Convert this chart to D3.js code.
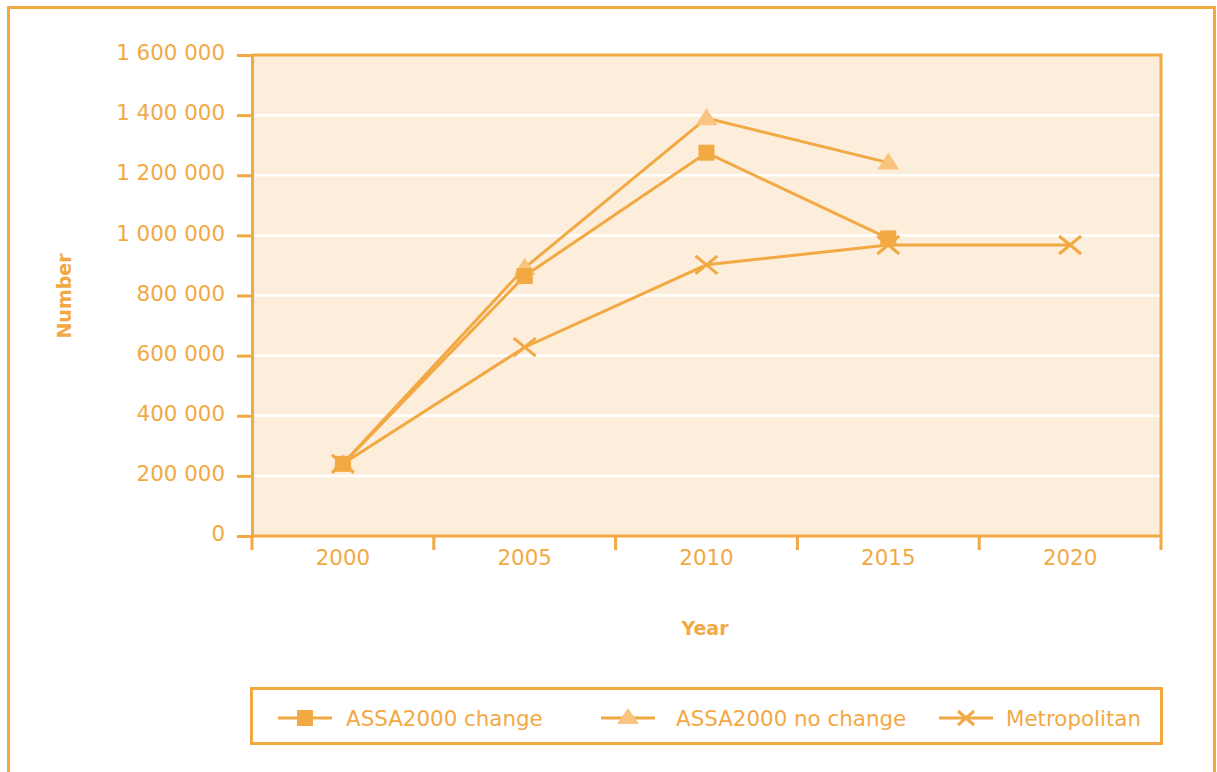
<!DOCTYPE html>
<html>
<head>
<meta charset="utf-8">
<script src="https://cdn.jsdelivr.net/npm/d3@7"></script>
<style>
  html, body { margin: 0; padding: 0; background: #ffffff; }
  svg { display: block; }
  text { font-family: "DejaVu Sans", "Open Sans", sans-serif; }
</style>
</head>
<body>
<svg id="chart" width="1217" height="772"></svg>
<script>
// Years on the horizontal axis
const years = ["2000", "2005", "2010", "2015", "2020"];
// Vertical axis ticks and their labels
const yTicks = [0, 200000, 400000, 600000, 800000, 1000000, 1200000, 1400000, 1600000];
const yTickLabels = ["0", "200 000", "400 000", "600 000", "800 000", "1 000 000", "1 200 000", "1 400 000", "1 600 000"];
// Series (null = no value)
const assaChange   = [240000, 865000, 1275000, 990000, null];
const assaNoChange = [240000, 892000, 1390000, 1242000, null];
const metropolitan = [240000, 628000, 902000, 968000, 968000];
const seriesNames  = ["ASSA2000 change", "ASSA2000 no change", "Metropolitan"];

const ORANGE = "#f2a944";
const LIGHT = "#f8c480";
const PLOT_BG = "#fdeedb";
const LABEL_SIZE = 21.4;

const svg = d3.select("#chart");

// Outer frame
svg.append("rect")
  .attr("x", 8.5).attr("y", 7.5).attr("width", 1206).attr("height", 800)
  .attr("fill", "none").attr("stroke", ORANGE).attr("stroke-width", 3);

const plot = { left: 252, right: 1161, top: 55, bottom: 536 };

const x = d3.scaleBand().domain(years).range([plot.left, plot.right]);
const y = d3.scaleLinear().domain([0, 1600000]).range([plot.bottom, plot.top]);

// Plot background
svg.append("rect")
  .attr("x", plot.left).attr("y", plot.top)
  .attr("width", plot.right - plot.left).attr("height", plot.bottom - plot.top)
  .attr("fill", PLOT_BG);

// Gridlines
svg.append("g").selectAll("line")
  .data(yTicks.filter(v => v > 0 && v < 1600000))
  .join("line")
  .attr("x1", plot.left).attr("x2", plot.right)
  .attr("y1", d => y(d)).attr("y2", d => y(d))
  .attr("stroke", "#ffffff").attr("stroke-width", 2.5);

// Plot border (top and right)
svg.append("path")
  .attr("d", `M${plot.left},${plot.top}H${plot.right}V${plot.bottom}`)
  .attr("fill", "none").attr("stroke", ORANGE).attr("stroke-width", 3);

// Y axis
const yAxis = d3.axisLeft(y)
  .tickValues(yTicks)
  .tickFormat((d, i) => yTickLabels[i])
  .tickSize(15).tickPadding(12);
const gy = svg.append("g").attr("transform", `translate(${plot.left},0)`).call(yAxis);
gy.select(".domain").attr("stroke", ORANGE).attr("stroke-width", 3);
gy.selectAll(".tick line").attr("stroke", ORANGE).attr("stroke-width", 3);
gy.selectAll(".tick text").attr("fill", ORANGE).attr("font-size", LABEL_SIZE)
  .attr("font-family", "DejaVu Sans, sans-serif").attr("dy", "0.22em");

// X axis: ticks on band boundaries
const boundaries = years.map(d => x(d)).concat([plot.right]);
const gx = svg.append("g");
gx.append("line")
  .attr("x1", plot.left).attr("x2", plot.right)
  .attr("y1", plot.bottom).attr("y2", plot.bottom)
  .attr("stroke", ORANGE).attr("stroke-width", 3);
gx.selectAll("line.tick").data(boundaries).join("line")
  .attr("class", "tick")
  .attr("x1", d => d).attr("x2", d => d)
  .attr("y1", plot.bottom).attr("y2", plot.bottom + 14)
  .attr("stroke", ORANGE).attr("stroke-width", 3);
gx.selectAll("text").data(years).join("text")
  .attr("x", d => x(d) + x.bandwidth() / 2)
  .attr("y", 565)
  .attr("text-anchor", "middle")
  .attr("fill", ORANGE).attr("font-size", LABEL_SIZE)
  .text(d => d);

// Axis titles
svg.append("text")
  .attr("transform", "translate(71,296) rotate(-90)")
  .attr("text-anchor", "middle")
  .attr("fill", ORANGE).attr("font-size", 19).attr("font-weight", "bold")
  .text("Number");
svg.append("text")
  .attr("x", 705).attr("y", 635)
  .attr("text-anchor", "middle")
  .attr("fill", ORANGE).attr("font-size", 19).attr("font-weight", "bold")
  .text("Year");

// Marker drawers
function drawSquare(g, cx, cy) {
  g.append("rect").attr("x", cx - 8).attr("y", cy - 8).attr("width", 16).attr("height", 16)
    .attr("fill", ORANGE);
}
function drawTriangle(g, cx, cy) {
  g.append("path")
    .attr("d", `M${cx},${cy - 10}L${cx + 11},${cy + 7}L${cx - 11},${cy + 7}Z`)
    .attr("fill", LIGHT);
}
function drawCross(g, cx, cy) {
  g.append("path")
    .attr("d", `M${cx - 11},${cy - 9}L${cx + 11},${cy + 9}M${cx - 11},${cy + 9}L${cx + 11},${cy - 9}`)
    .attr("stroke", ORANGE).attr("stroke-width", 3).attr("fill", "none");
}

const cx = d => x(d) + x.bandwidth() / 2;
const line = d3.line()
  .defined(d => d.v !== null)
  .x(d => cx(d.year))
  .y(d => y(d.v));

const series = [
  { name: seriesNames[1], values: assaNoChange, marker: drawTriangle },
  { name: seriesNames[2], values: metropolitan, marker: drawCross },
  { name: seriesNames[0], values: assaChange, marker: drawSquare }
];

const linesG = svg.append("g");
series.forEach(s => {
  const pts = years.map((yr, i) => ({ year: yr, v: s.values[i] }));
  linesG.append("path").datum(pts)
    .attr("d", line)
    .attr("fill", "none").attr("stroke", ORANGE).attr("stroke-width", 3);
});
const markersG = svg.append("g");
series.forEach(s => {
  years.forEach((yr, i) => {
    if (s.values[i] !== null) s.marker(markersG, cx(yr), y(s.values[i]));
  });
});

// Legend
const legend = svg.append("g");
legend.append("rect")
  .attr("x", 251.5).attr("y", 688.5).attr("width", 910).attr("height", 55)
  .attr("fill", "#ffffff").attr("stroke", ORANGE).attr("stroke-width", 3);
const legendItems = [
  { name: seriesNames[0], x0: 278, tx: 346, kind: "square" },
  { name: seriesNames[1], x0: 601, tx: 676, kind: "triangle" },
  { name: seriesNames[2], x0: 939, tx: 1006, kind: "cross" }
];
const ly = 718;
legendItems.forEach(it => {
  legend.append("line")
    .attr("x1", it.x0).attr("x2", it.x0 + 54)
    .attr("y1", ly).attr("y2", ly)
    .attr("stroke", ORANGE).attr("stroke-width", 3);
  if (it.kind === "cross") {
    legend.append("path")
      .attr("d", `M${it.x0 + 19},${ly - 7}L${it.x0 + 35},${ly + 7}M${it.x0 + 19},${ly + 7}L${it.x0 + 35},${ly - 7}`)
      .attr("stroke", ORANGE).attr("stroke-width", 3);
  } else if (it.kind === "triangle") {
    legend.append("path")
      .attr("d", `M${it.x0 + 27},${ly - 10}L${it.x0 + 38},${ly + 6}L${it.x0 + 16},${ly + 6}Z`)
      .attr("fill", LIGHT);
  } else {
    legend.append("rect")
      .attr("x", it.x0 + 19).attr("y", ly - 8).attr("width", 16).attr("height", 16)
      .attr("fill", ORANGE);
  }
  legend.append("text")
    .attr("x", it.tx).attr("y", ly + 7.5)
    .attr("fill", ORANGE).attr("font-size", LABEL_SIZE)
    .text(it.name);
});
</script>
</body>
</html>
